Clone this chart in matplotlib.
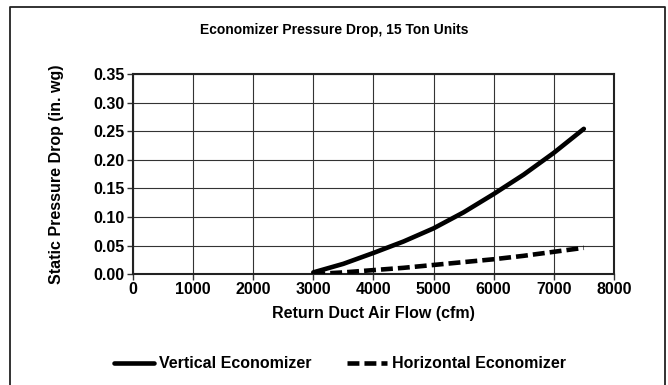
import matplotlib
matplotlib.use("Agg")
import matplotlib.pyplot as plt
from matplotlib.lines import Line2D

plt.rcParams["font.family"] = ["Liberation Sans", "DejaVu Sans"]
plt.rcParams["font.weight"] = "bold"

# Pressure drop curves (in. wg) against return air flow (cfm)
airflow = [3000, 3500, 4000, 4500, 5000, 5500, 6000, 6500, 7000, 7500]
vertical = [0.003, 0.018, 0.037, 0.057, 0.080, 0.108, 0.140, 0.174, 0.212, 0.254]
horizontal = [0.000, 0.003, 0.007, 0.011, 0.016, 0.021, 0.026, 0.032, 0.039, 0.046]

x_ticks = [0, 1000, 2000, 3000, 4000, 5000, 6000, 7000, 8000]
y_ticks = [0.00, 0.05, 0.10, 0.15, 0.20, 0.25, 0.30, 0.35]

fig = plt.figure(figsize=(6.68, 3.85), dpi=100, facecolor="white")

# card frame: left, top and right edges (open at the bottom)
fx0, fx1, fy1 = 10 / 668, 665 / 668, 1 - 7 / 385
fig.add_artist(Line2D([fx0, fx0, fx1, fx1], [0, fy1, fy1, 0],
                      transform=fig.transFigure, color="#222222", lw=1.3))

ax = fig.add_axes([0.199, 0.288, 0.720, 0.520])
ax.plot(airflow, vertical, color="black", lw=3.3, solid_capstyle="round",
        label="Vertical Economizer", zorder=3)
ax.plot(airflow, horizontal, color="black", lw=3.3, ls=(0, (2.6, 1.1)),
        label="Horizontal Economizer", zorder=3)

ax.set_xlim(0, 8000)
ax.set_ylim(0, 0.35)
ax.set_xticks(x_ticks)
ax.set_yticks(y_ticks)
ax.set_xticklabels([str(v) for v in x_ticks])
ax.set_yticklabels([f"{v:.2f}" for v in y_ticks])
ax.tick_params(axis="both", labelsize=11.5, length=4, width=1, color="#333333", pad=2)
ax.grid(True, color="#333333", lw=0.8)
ax.set_axisbelow(True)
for s in ax.spines.values():
    s.set_linewidth(1.5)
    s.set_color("#222222")

ax.set_xlabel("Return Duct Air Flow (cfm)", fontsize=11.5, fontweight="bold", labelpad=6)
ax.set_ylabel("Static Pressure Drop (in. wg)", fontsize=11.5, fontweight="bold", labelpad=21)
fig.text(0.5, 0.922, "Economizer Pressure Drop, 15 Ton Units",
         ha="center", va="center", fontsize=10, fontweight="bold")

fig.legend(loc="center", bbox_to_anchor=(0.509, 0.055), ncol=2, frameon=False,
           fontsize=11.5, handlelength=2.5, handletextpad=0.35, columnspacing=2.2)

fig.savefig("out.png", dpi=100, facecolor="white")
